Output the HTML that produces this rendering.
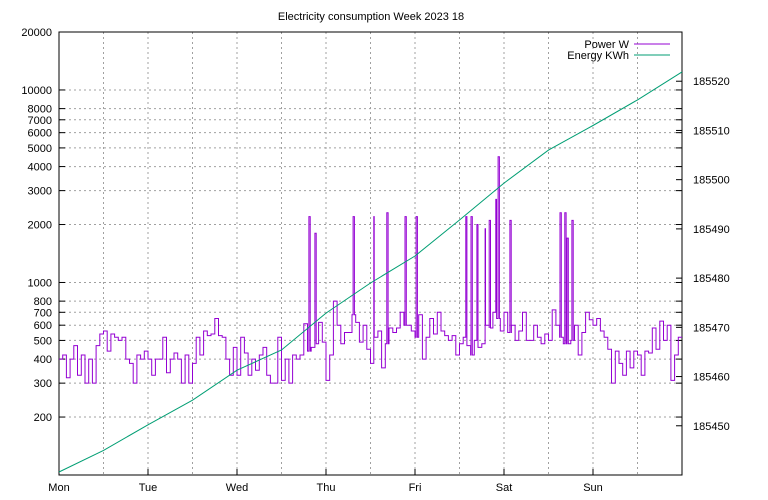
<!DOCTYPE html>
<html><head><meta charset="utf-8"><style>
body{margin:0;background:#fff;}
svg{display:block;font-family:"Liberation Sans",sans-serif;font-size:11px;}
</style></head><body>
<svg id="chart" width="768" height="500" viewBox="0 0 768 500">
<text x="371" y="20" text-anchor="middle">Electricity consumption Week 2023 18</text>
<g id="grid"></g>
<g id="axes"></g>
<g id="series"></g>
<g>
<text x="629" y="48" text-anchor="end">Power W</text>
<line x1="634" y1="44" x2="670" y2="44" stroke="#9400d3"/>
<text x="629" y="59" text-anchor="end">Energy KWh</text>
<line x1="634" y1="55" x2="670" y2="55" stroke="#009e73"/>
</g>
</svg>
<script>
const dayLabels=["Mon","Tue","Wed","Thu","Fri","Sat","Sun"];
const leftTicks=[200,300,400,500,600,700,800,1000,2000,3000,4000,5000,6000,7000,8000,10000,20000];
const rightTicks=[185450,185460,185470,185480,185490,185500,185510,185520];
// hourly base power, W
const powerMon=[400,420,320,400,470,330,420,300,400,300,470,540,560,440,540,520,500,520,400,380,300,420,400,440];
const powerTue=[400,330,400,400,520,340,400,430,400,300,420,300,380,520,420,560,530,540,650,530,520,400,330,460];
const powerWed=[330,520,430,330,400,350,420,460,330,300,300,520,310,400,300,420,400,420,610,440,460,480,620,490];
const powerThu=[310,420,800,600,480,550,550,680,620,490,600,450,380,520,560,360,480,580,550,580,700,600,600,560];
const powerFri=[520,680,400,520,650,540,700,560,530,500,530,420,480,520,470,420,500,460,480,600,580,700,650,560];
const powerSat=[700,550,600,500,560,700,500,500,600,520,480,540,500,720,600,520,480,480,500,600,420,550,700,640];
const powerSun=[600,650,560,520,450,300,440,380,330,440,360,440,420,330,440,430,580,450,630,500,600,310,420,520];
// short spikes: hour of week, W
const spikeHours=[67.4,69.0,79.3,84.9,88.4,93.3,96.3,109.7,111.1,112.7,114.9,116.0,117.8,118.4,121.6,135.1,136.4,137.0,138.3];
const spikeValues=[2200,1800,2200,2200,2300,2200,2200,2200,2200,2000,1900,2100,2700,4500,2100,2300,2300,1700,2100];
// energy meter every 12h, kWh
const energy=[185440.6,185445,185450.2,185455.2,185461.3,185465.4,185472.9,185479,185484.5,185491.8,185499.3,185506,185511,185516.2,185521.9];

const L=59,R=682,T=32,B=475,NS="http://www.w3.org/2000/svg";
const xS=d=>L+(R-L)*d/7;
const yL=v=>B-(B-T)*(Math.log10(v)-2)/(Math.log10(20000)-2);
const yR=v=>B-(B-T)*(v-185440)/90;
function mk(tag,attrs,parent,txt){const e=document.createElementNS(NS,tag);for(const k in attrs)e.setAttribute(k,attrs[k]);if(txt!==undefined)e.textContent=txt;parent.appendChild(e);return e;}
const grid=document.getElementById('grid'),axes=document.getElementById('axes'),series=document.getElementById('series');
const gs={stroke:"#a0a0a0","stroke-dasharray":"2,3","stroke-width":1};
for(let i=1;i<14;i++){const x=xS(i/2);const g=mk('line',Object.assign({x1:x,x2:x,y1:T,y2:B},gs),grid);}
leftTicks.forEach(v=>{const y=yL(v);
 if(v<20000){const g=mk('line',Object.assign({x1:L,x2:R,y1:y,y2:y},gs),grid);}
 const t=mk('line',{x1:L,x2:L+6,y1:y,y2:y,stroke:"#000"},axes);
 const t2=mk('line',{x1:R-6,x2:R,y1:y,y2:y,stroke:"#000"},axes);
 const lb=mk('text',{x:L-7,y:y+4,"text-anchor":"end"},axes,String(v));});
rightTicks.forEach(v=>{const y=yR(v);
 const t=mk('line',{x1:R,x2:R-6,y1:y,y2:y,stroke:"#000"},axes);
 const lb=mk('text',{x:R+11,y:y+4},axes,String(v));});
dayLabels.forEach((d,i)=>{const x=xS(i);
 const lb=mk('text',{x:x,y:B+16,"text-anchor":"middle"},axes,d);
 if(i>0){const t=mk('line',{x1:x,x2:x,y1:B,y2:B-6,stroke:"#000"},axes);}});
const fr=mk('rect',{x:L,y:T,width:R-L,height:B-T,fill:"none",stroke:"#000"},axes);

// merge base hourly steps with spikes into a time-ordered step series
const power=[].concat(powerMon,powerTue,powerWed,powerThu,powerFri,powerSat,powerSun);
const pts=[];
power.forEach((v,i)=>{
 let t=i;
 spikeHours.forEach((h,k)=>{if(h>=i&&h<i+1){}});
 pts.push([i,v]);
});
spikeHours.forEach((h,k)=>{pts.push([h,spikeValues[k],true]);});
pts.sort((a,b)=>a[0]-b[0]);
let d="";let cur=null;
const steps=[];
// build step list: spikes last 0.35h, then revert to base of that hour
pts.forEach(p=>{
 if(p[2]){steps.push([p[0],p[1]]);const base=power[Math.min(power.length-1,Math.floor(p[0]+0.35))];steps.push([p[0]+0.35,base]);}
 else steps.push([p[0],p[1]]);
});
steps.sort((a,b)=>a[0]-b[0]);
steps.forEach((s,i)=>{
 const x0=xS(s[0]/24),x1=xS((i+1<steps.length?steps[i+1][0]:168)/24),y=yL(s[1]);
 d+=(i?"L":"M")+x0.toFixed(1)+","+y.toFixed(1)+"L"+x1.toFixed(1)+","+y.toFixed(1);
});
const pp=mk('path',{d:d,fill:"none",stroke:"#9400d3","stroke-width":1},series);

let e="";energy.forEach((v,i)=>{e+=(i?"L":"M")+xS(i/2).toFixed(1)+","+yR(v).toFixed(1);});
const ep=mk('path',{d:e,fill:"none",stroke:"#009e73","stroke-width":1},series);

</script>
</body></html>
